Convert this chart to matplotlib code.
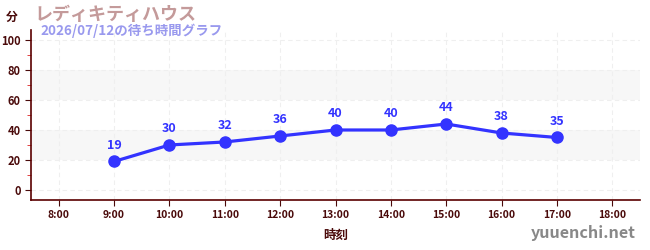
import matplotlib
matplotlib.use("Agg")
import matplotlib.pyplot as plt
from matplotlib.ticker import MultipleLocator

plt.rcParams["font.family"] = ["Noto Sans CJK JP", "DejaVu Sans"]

# data
hours = [9, 10, 11, 12, 13, 14, 15, 16, 17]
waits = [19, 30, 32, 36, 40, 40, 44, 38, 35]
tick_hours = list(range(8, 19))
tick_labels = [f"{h}:00" for h in tick_hours]

TITLE = "レディキティハウス"
SUBTITLE = "2026/07/12の待ち時間グラフ"
DARK = "#4a0a0a"
LINE = "#3333ff"

fig = plt.figure(figsize=(6.5, 2.5), dpi=100)
ax = fig.add_axes([31 / 650, 50 / 250, 609 / 650, 170 / 250])

# shaded bands
for lo, hi in [(20, 40), (60, 80)]:
    ax.axhspan(lo, hi, color="#f7f7f7", zorder=0, lw=0)

ax.plot(hours, waits, color=LINE, lw=2.3, marker="o", ms=8, zorder=3)
for h, w in zip(hours, waits):
    ax.annotate(str(w), (h, w), xytext=(0, 7), textcoords="offset points",
                ha="center", va="bottom", color=LINE, fontsize=9, fontweight="bold")

ax.set_xlim(7.5, 18.5)
ax.set_ylim(-6.7, 106.7)
ax.set_xticks(tick_hours)
ax.set_xticklabels(tick_labels)
ax.yaxis.set_major_locator(MultipleLocator(20))
ax.yaxis.set_minor_locator(MultipleLocator(10))
ax.grid(True, which="major", color="#efefef", ls=(0, (4, 3)), lw=0.8, zorder=1)

for side in ["top", "right"]:
    ax.spines[side].set_visible(False)
for side in ["left", "bottom"]:
    ax.spines[side].set_color("#5a0000")
    ax.spines[side].set_linewidth(1.2)

ax.tick_params(axis="both", which="major", colors=DARK, labelsize=8, length=4)
ax.tick_params(axis="y", which="minor", colors="#dd2222", length=3)
ax.tick_params(axis="x", which="major", labelsize=7.5)
for lbl in ax.get_xticklabels() + ax.get_yticklabels():
    lbl.set_fontweight("bold")

ax.set_xlabel("時刻", color=DARK, fontsize=9, fontweight="bold", labelpad=6)

fig.text(6 / 650, 1 - 17 / 250, "分", color=DARK, fontsize=8.5, fontweight="bold", va="center")
fig.text(34 / 650, 1 - 14 / 250, TITLE, color="#c49a9a", fontsize=13, fontweight="bold", va="center")
fig.text(40 / 650, 1 - 31 / 250, SUBTITLE, color="#9999ee", fontsize=9.7, fontweight="bold", va="center")
fig.text(636 / 650, 1 - 233 / 250, "yuuenchi.net", color="#888888", fontsize=11.6,
         fontweight="bold", ha="right", va="center")

fig.savefig("out.png", dpi=100)
